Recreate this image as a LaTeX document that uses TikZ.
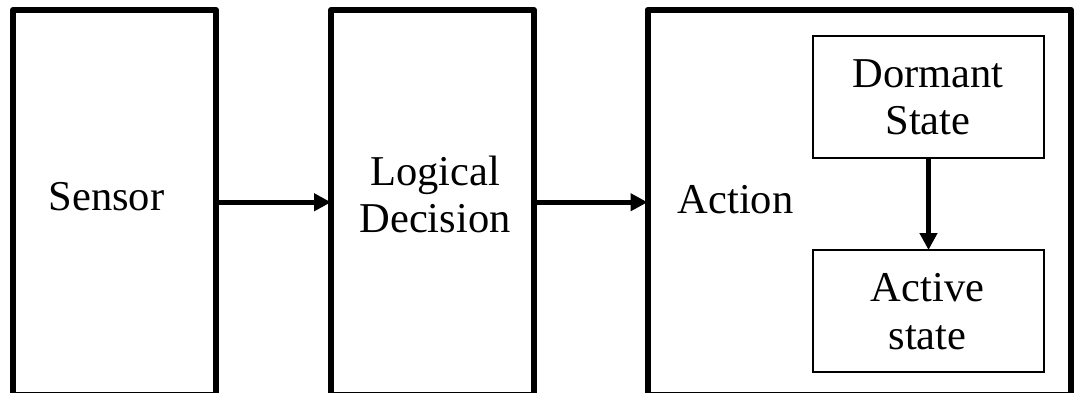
\documentclass[tikz,border=0pt]{standalone}
\usepackage{fontspec}
\setmainfont{Liberation Serif}
\usetikzlibrary{arrows.meta}
\begin{document}
\begin{tikzpicture}[x=1pt,y=-1pt,
  bigbox/.style={draw, line width=6pt, line join=round, inner sep=0pt, outer sep=0pt},
  smallbox/.style={draw, line width=1.5pt, inner sep=0pt, outer sep=0pt},
  lbl/.style={font=\fontsize{42.5}{47}\selectfont, inner sep=0pt, anchor=base},
  conn/.style={line width=5pt, -{Triangle[length=17pt,width=17pt]}}]
\useasboundingbox (0,0) rectangle (1076,392);
\clip (0,0) rectangle (1076,392);
\node[bigbox, minimum width=203pt, minimum height=384.5pt] (sensor) at (114.5,202.25) {};
\node[bigbox, minimum width=203pt, minimum height=384.5pt] (logic) at (432.5,202.25) {};
\node[bigbox, minimum width=423.5pt, minimum height=384.5pt] (action) at (859.25,202.25) {};
\node[smallbox, minimum width=231pt, minimum height=122pt] (dormant) at (928.5,97) {};
\node[smallbox, minimum width=231pt, minimum height=122pt] (active) at (928.5,311) {};
\draw[conn] (sensor.east) -- (logic.west);
\draw[conn] (logic.east) -- (action.west);
\draw[conn] (dormant.south) -- (active.north);
\node[lbl] (sensortxt) at (106.5,210) {Sensor};
\node[lbl] (logictxta) at (435,185) {Logical};
\node[lbl] (logictxtb) at (435,232) {Decision};
\node[lbl] (actiontxt) at (735.5,213) {Action};
\node[lbl] (dormtxta) at (928,87) {Dormant};
\node[lbl] (dormtxtb) at (928,134) {State};
\node[lbl] (acttxta) at (927.5,301) {Active};
\node[lbl] (acttxtb) at (927.5,349) {state};
\end{tikzpicture}
\end{document}
